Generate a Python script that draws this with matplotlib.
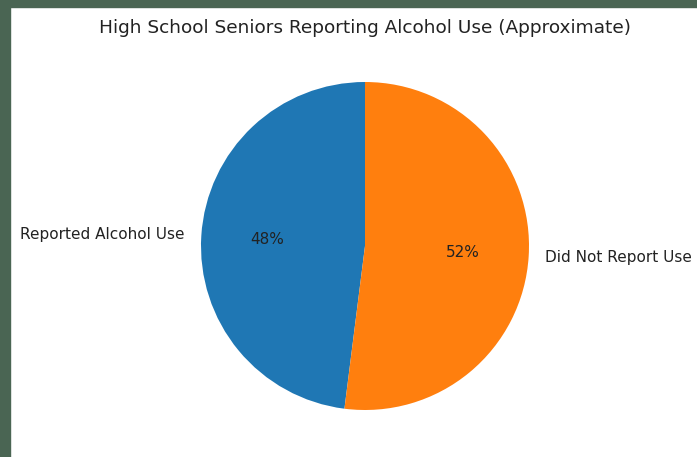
import matplotlib
matplotlib.use("Agg")
import matplotlib.pyplot as plt
from matplotlib.patches import Rectangle

labels = ["Reported Alcohol Use", "Did Not Report Use"]
values = [48, 52]
colors = ["#1f77b4", "#ff7f0e"]
title = "High School Seniors Reporting Alcohol Use (Approximate)"

W, H = 697, 457
fig = plt.figure(figsize=(W / 100, H / 100), dpi=100)
fig.patch.set_facecolor("white")

# dark border strips (screenshot edge)
border = "#4a6553"
fig.patches.append(Rectangle((0, 0), 10 / W, 1, transform=fig.transFigure, color=border, zorder=0))
fig.patches.append(Rectangle((0, 1 - 7 / H), 1, 7 / H, transform=fig.transFigure, color=border, zorder=0))

txt = "#222222"
cx, cy, r = 365, 246, 164
side = r * 2.5
ax = fig.add_axes([(cx - side / 2) / W, (H - cy - side / 2) / H, side / W, side / H])
ax.pie(values, labels=labels, colors=colors, autopct="%1.0f%%", startangle=90,
       textprops={"fontsize": 11, "color": txt})
ax.set_aspect("equal")

fig.text(cx / W, 1 - 28 / H, title, ha="center", va="center", fontsize=13.3, color=txt)

fig.savefig("out.png", dpi=100)
